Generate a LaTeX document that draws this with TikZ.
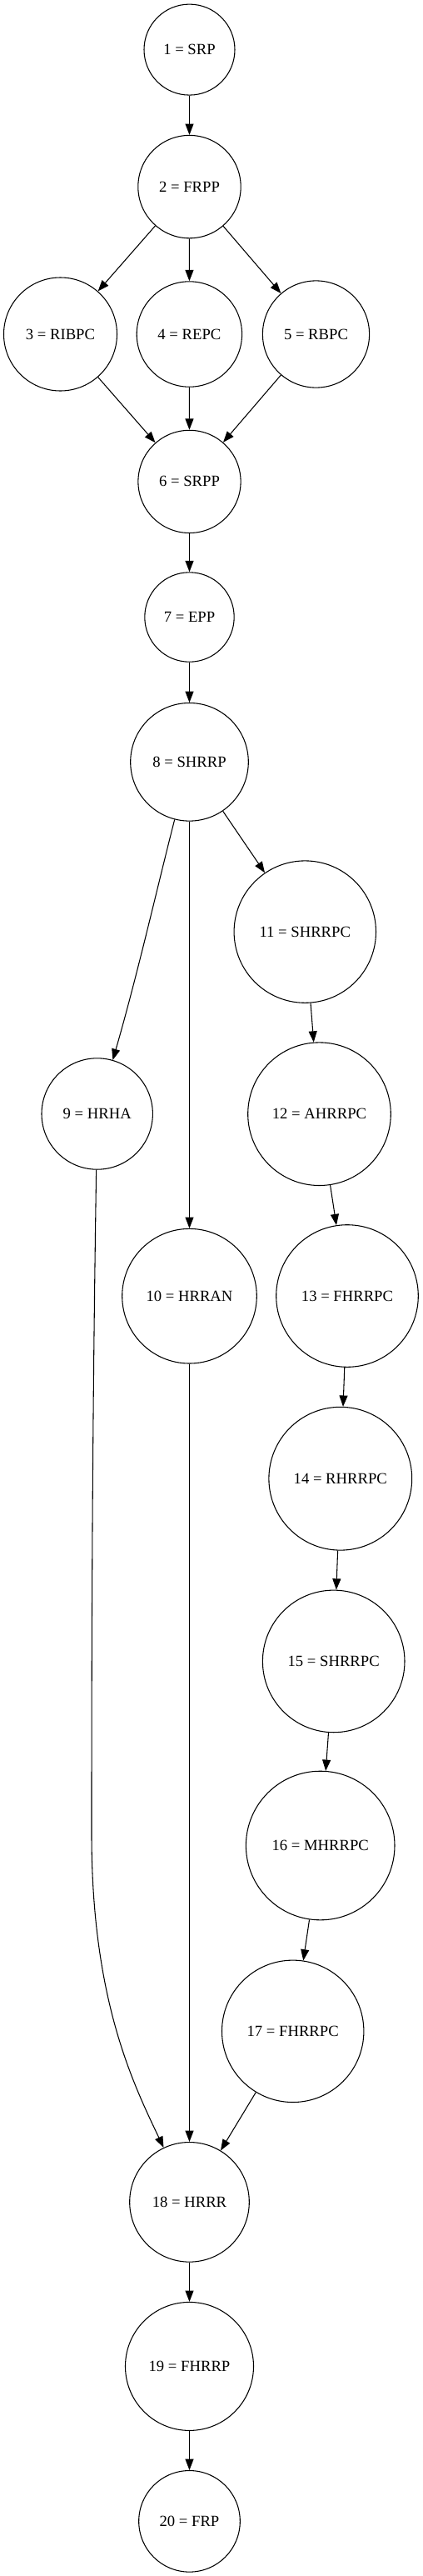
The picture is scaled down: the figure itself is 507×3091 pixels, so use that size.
\documentclass[tikz,border=0pt]{standalone}
\usepackage{fontspec}
\setmainfont{Liberation Serif}
\usetikzlibrary{arrows.meta}
\begin{document}
\begin{tikzpicture}[x=0.75pt,y=-0.75pt,
  nd/.style={circle, draw=black, line width=0.8pt, inner sep=0pt, font=\fontsize{14}{16}\selectfont},
  conn/.style={draw=black, line width=0.8pt, -{Triangle[length=10pt,width=7.5pt]}}]
\useasboundingbox (0,0) rectangle (507,3091);
\node[nd, minimum size=109*0.75pt]   (n1)  at (227.5,59.6)   {1 = SRP};
\node[nd, minimum size=123.4*0.75pt] (n2)  at (227.5,224.1)  {2 = FRPP};
\node[nd, minimum size=136*0.75pt]   (n3)  at (72.5,401)     {3 = RIBPC};
\node[nd, minimum size=126.4*0.75pt] (n4)  at (227.4,401)    {4 = REPC};
\node[nd, minimum size=128.2*0.75pt] (n5)  at (379.5,401)    {5 = RBPC};
\node[nd, minimum size=123.2*0.75pt] (n6)  at (227.5,577.9)  {6 = SRPP};
\node[nd, minimum size=107.4*0.75pt] (n7)  at (227.5,740.5)  {7 = EPP};
\node[nd, minimum size=141.6*0.75pt] (n8)  at (227.5,914.3)  {8 = SHRRP};
\node[nd, minimum size=133.4*0.75pt] (n9)  at (116.7,1336.5) {9 = HRHA};
\node[nd, minimum size=161.6*0.75pt] (n10) at (227.5,1555.2) {10 = HRRAN};
\node[nd, minimum size=170.4*0.75pt] (n11) at (366.3,1118.1) {11 = SHRRPC};
\node[nd, minimum size=171.6*0.75pt] (n12) at (383.5,1336.7) {12 = AHRRPC};
\node[nd, minimum size=170.6*0.75pt] (n13) at (417,1555)     {13 = FHRRPC};
\node[nd, minimum size=171.8*0.75pt] (n14) at (408.8,1774.2) {14 = RHRRPC};
\node[nd, minimum size=170.6*0.75pt] (n15) at (400.7,1993.4) {15 = SHRRPC};
\node[nd, minimum size=178.6*0.75pt] (n16) at (384.7,2214.5) {16 = MHRRPC};
\node[nd, minimum size=170.4*0.75pt] (n17) at (351.7,2437.3) {17 = FHRRPC};
\node[nd, minimum size=143.6*0.75pt] (n18) at (227.5,2642.3) {18 = HRRR};
\node[nd, minimum size=154*0.75pt]   (n19) at (227.5,2839.4) {19 = FHRRP};
\node[nd, minimum size=121.6*0.75pt] (n20) at (227.5,3025.3) {20 = FRP};
\coordinate (k9) at (110,2200);
\draw[conn] (n1) -- (n2);
\draw[conn] (n2) -- (n3);
\draw[conn] (n2) -- (n4);
\draw[conn] (n2) -- (n5);
\draw[conn] (n3) -- (n6);
\draw[conn] (n4) -- (n6);
\draw[conn] (n5) -- (n6);
\draw[conn] (n6) -- (n7);
\draw[conn] (n7) -- (n8);
\draw[conn] (n8) .. controls (190,1060) and (165,1170) .. (n9);
\draw[conn] (n8) -- (n10);
\draw[conn] (n8) -- (n11);
\draw[conn] (n11) -- (n12);
\draw[conn] (n12) -- (n13);
\draw[conn] (n13) -- (n14);
\draw[conn] (n14) -- (n15);
\draw[conn] (n15) -- (n16);
\draw[conn] (n16) -- (n17);
\draw[conn] (n17) -- (n18);
\draw[conn] (n10) -- (n18);
\draw[conn] (n9) .. controls (111,1700) and (110,1950) .. (k9) .. controls (110,2400) and (160,2500) .. (n18);
\draw[conn] (n18) -- (n19);
\draw[conn] (n19) -- (n20);
\end{tikzpicture}
\end{document}
